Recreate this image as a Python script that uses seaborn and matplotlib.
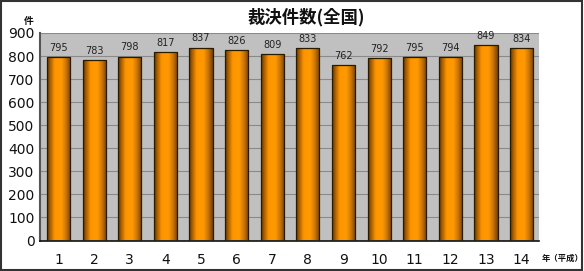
import numpy as np
import pandas as pd
import matplotlib
matplotlib.use("Agg")
import matplotlib.pyplot as plt
import seaborn as sns
from matplotlib.colors import LinearSegmentedColormap

years = ["1", "2", "3", "4", "5", "6", "7", "8", "9", "10", "11", "12", "13", "14"]
counts = [795, 783, 798, 817, 837, 826, 809, 833, 762, 792, 795, 794, 849, 834]
title = "裁決件数(全国)"
y_unit = "件"
x_unit = "年（平成）"

sns.set_theme(style="white")
plt.rcParams["font.family"] = ["Noto Sans CJK JP", "DejaVu Sans"]

df = pd.DataFrame({"year": years, "count": counts})

fig = plt.figure(figsize=(5.84, 2.71), dpi=100)
ax = fig.add_axes([40 / 584, 1 - 240.5 / 271, 499 / 584, (240.5 - 33) / 271])
ax.set_facecolor("#C0C0C0")

sns.barplot(data=df, x="year", y="count", color="#FF9900", width=0.65,
            edgecolor="#2a1a00", linewidth=0.9, ax=ax, zorder=3)

ax.set_ylim(0, 900)
ax.set_xlim(-0.52, len(years) - 0.51)
ax.set_yticks(range(0, 901, 100))
ax.yaxis.grid(True, color="#8a8a8a", linewidth=0.8, zorder=0)
ax.set_axisbelow(True)
ax.set_xlabel("")
ax.set_ylabel("")
ax.tick_params(axis="y", labelsize=10, length=0, pad=4, labelcolor="#111111")
ax.tick_params(axis="x", labelsize=10, length=0, pad=9, labelcolor="#111111")
for lbl in ax.get_xticklabels() + ax.get_yticklabels():
    lbl.set_family(["DejaVu Sans"])
for s in ["top", "right"]:
    ax.spines[s].set_visible(False)
ax.spines["left"].set_color("#555555")
ax.spines["left"].set_linewidth(1.5)
ax.spines["bottom"].set_color("#111111")
ax.spines["bottom"].set_linewidth(1.2)

# cylinder-like gradient on bars
cmap = LinearSegmentedColormap.from_list(
    "cyl", [(0.0, "#5e3500"), (0.12, "#a05a00"), (0.32, "#FF9500"),
            (0.6, "#FF9A00"), (0.8, "#cc7400"), (1.0, "#6e3f00")])
grad = np.linspace(0, 1, 256).reshape(1, -1)
for p in ax.patches:
    x0, y0 = p.get_x(), p.get_y()
    w, h = p.get_width(), p.get_height()
    im = ax.imshow(grad, cmap=cmap, aspect="auto", extent=(x0, x0 + w, y0, y0 + h),
                   zorder=3.5, interpolation="bicubic")
    im.set_clip_path(p)
    p.set_facecolor("none")
    p.set_zorder(4)

for i, v in enumerate(counts):
    ax.text(i, v + 18, str(v), ha="center", va="bottom", fontsize=7,
            color="#222222", family=["DejaVu Sans"])

fig.text(306 / 584, 1 - 17 / 271, title, ha="center", va="center",
         fontsize=12.5, fontweight="bold", color="#111111")
fig.text(29 / 584, 1 - 21 / 271, y_unit, ha="center", va="center",
         fontsize=7, fontweight="bold", color="#111111")
fig.text(563 / 584, 1 - 258 / 271, x_unit, ha="center", va="center",
         fontsize=6, fontweight="bold", color="#111111")

border = plt.Rectangle((0.002, 0.004), 0.995, 0.992, transform=fig.transFigure,
                       fill=False, edgecolor="#333333", linewidth=1.5)
fig.add_artist(border)

fig.savefig("out.png", dpi=100)
